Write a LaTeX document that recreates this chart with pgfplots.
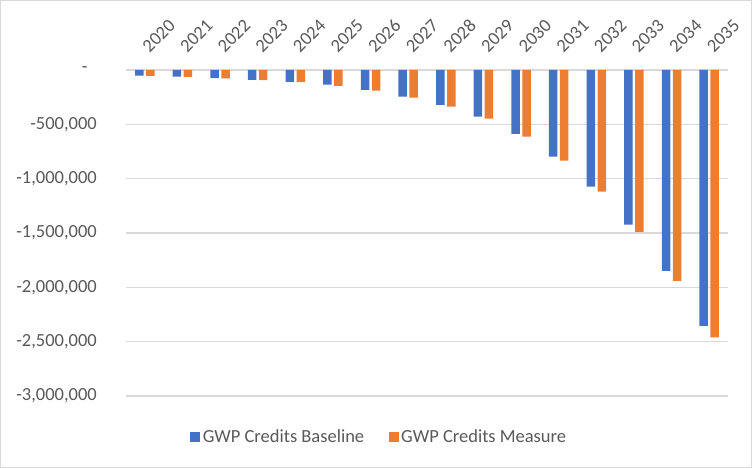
\documentclass[border=0pt]{standalone}
\usepackage{pgfplots}
\pgfplotsset{compat=1.18}
\usepackage{fontspec}
\setmainfont{Carlito}
\definecolor{xlblue}{HTML}{4472C4}
\definecolor{xlorange}{HTML}{ED7D31}
\definecolor{xltext}{HTML}{595959}
\definecolor{xlgrid}{HTML}{D9D9D9}
\begin{document}
\begin{tikzpicture}[x=1pt,y=1pt]
\useasboundingbox (-126,-72) rectangle (626,396);
\draw[xlgrid, line width=1.2pt] (-125.4,-71.4) rectangle (625.4,395.4);
\begin{axis}[
  at={(0,0)}, anchor=south west,
  scale only axis,
  width=602pt, height=326pt,
  ybar=2.5pt, bar width=8.5pt,
  xmin=-0.5, xmax=15.5,
  ymin=-3000000, ymax=0,
  scaled y ticks=false,
  xtick={0,...,15},
  xticklabels={2020,2021,2022,2023,2024,2025,2026,2027,2028,2029,2030,2031,2032,2033,2034,2035},
  xticklabel pos=upper,
  ytick={-3000000,-2500000,-2000000,-1500000,-1000000,-500000,0},
  yticklabels={{-3,000,000},{-2,500,000},{-2,000,000},{-1,500,000},{-1,000,000},{-500,000},{-\hphantom{0}}},
  /pgf/number format/assume math mode=true,
  tick style={draw=none},
  major tick length=0pt,
  axis line style={draw=none},
  ymajorgrids, major grid style={xlgrid, line width=1.2pt},
  tick label style={font=\fontsize{18.5}{22}\selectfont, text=xltext},
  every x tick label/.append style={xshift=5pt, yshift=16pt, rotate=45, anchor=south west, inner sep=0pt},
  every y tick label/.append style={anchor=east, inner sep=0pt, xshift=-29pt},
  legend style={at={(0.421,-0.126)}, anchor=center, draw=none, fill=none,
    legend columns=2, font=\fontsize{18.5}{22}\selectfont, text=xltext,
    /tikz/every even column/.append style={column sep=22pt},
    nodes={inner sep=2.5pt}},
  legend image code/.code={\fill[#1] (0pt,-5pt) rectangle (10pt,5pt);},
]
\addplot[fill=xlblue, draw=none] coordinates {
  (0,-52000)(1,-62000)(2,-74000)(3,-92000)(4,-110000)(5,-135000)(6,-184000)(7,-246000)
  (8,-320000)(9,-430000)(10,-587000)(11,-798000)(12,-1074000)(13,-1424000)(14,-1848000)(15,-2354000)
};
\addplot[fill=xlorange, draw=none] coordinates {
  (0,-55000)(1,-64000)(2,-76000)(3,-94000)(4,-112000)(5,-147000)(6,-190000)(7,-255000)
  (8,-338000)(9,-448000)(10,-614000)(11,-835000)(12,-1120000)(13,-1489000)(14,-1940000)(15,-2461000)
};
\legend{GWP Credits Baseline, GWP Credits Measure}
\end{axis}
\end{tikzpicture}
\end{document}
